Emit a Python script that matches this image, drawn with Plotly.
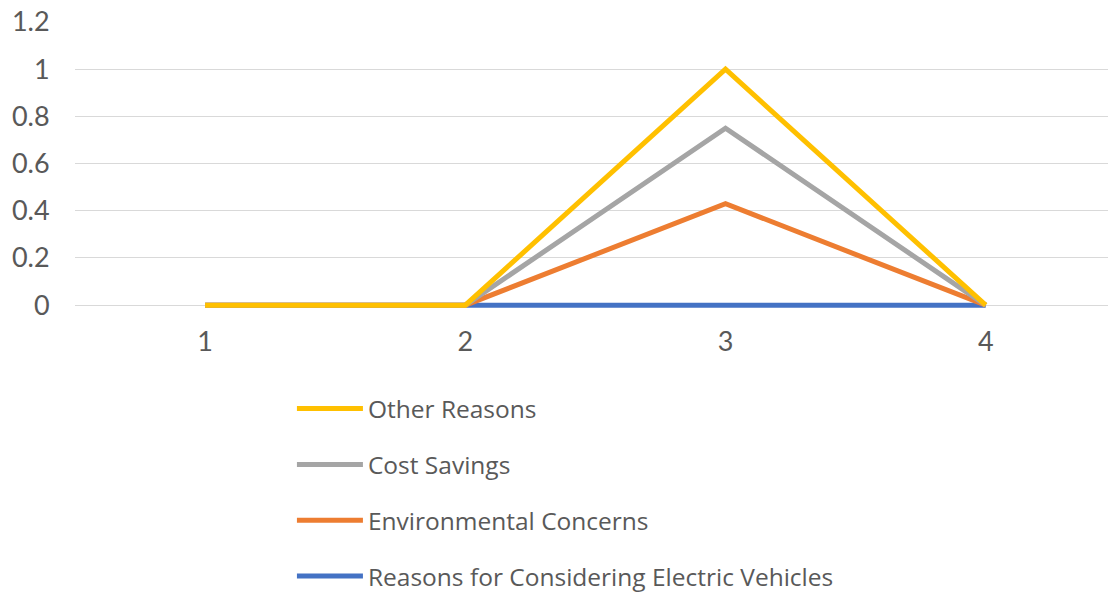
import plotly.graph_objects as go

categories = [1, 2, 3, 4]
reasons_ev = [0, 0, 0, 0]
environmental = [0, 0, 0.43, 0]
cost_savings = [0, 0, 0.75, 0]
other_reasons = [0, 0, 1.0, 0]

# drawn bottom-to-top; legend lists them top-to-bottom in reverse
series = [
    ("Reasons for Considering Electric Vehicles", reasons_ev, "#4472C4"),
    ("Environmental Concerns", environmental, "#ED7D31"),
    ("Cost Savings", cost_savings, "#A5A5A5"),
    ("Other Reasons", other_reasons, "#FFC000"),
]

fig = go.Figure()
n = len(series)
for i, (name, vals, color) in enumerate(series):
    fig.add_trace(go.Scatter(
        x=categories, y=vals, name=name, mode="lines",
        line=dict(color=color, width=5),
        legendgroup=f"g{i}",
        legendrank=(n - i) * 10,
    ))

tick_font = dict(family="Lato, Open Sans, sans-serif", size=27, color="#595959")
legend_font = dict(family="Open Sans, sans-serif", size=24.5, color="#595959")

fig.update_layout(
    width=1108, height=594,
    margin=dict(l=75, r=0, t=22, b=286),
    paper_bgcolor="white", plot_bgcolor="white",
    font=legend_font,
    showlegend=True,
    legend=dict(
        xref="paper", yref="container",
        x=0.21, y=0.35, xanchor="left", yanchor="top",
        traceorder="grouped", tracegroupgap=21,
        font=legend_font,
        itemwidth=66,
    ),
    xaxis=dict(
        range=[0.5, 4.47], tickvals=categories, ticktext=[str(c) for c in categories],
        showgrid=False, zeroline=False, showline=False,
        ticks="outside", ticklen=10, tickcolor="rgba(0,0,0,0)",
        tickfont=tick_font,
    ),
    # small headroom below zero so the baseline strokes are not clipped
    yaxis=dict(
        range=[-0.012, 1.2], tickvals=[0, 0.2, 0.4, 0.6, 0.8, 1, 1.2],
        ticktext=["0", "0.2", "0.4", "0.6", "0.8", "1", "1.2"],
        showgrid=True, gridcolor="#D9D9D9", gridwidth=1,
        zeroline=False, showline=False,
        ticks="outside", ticklen=19, tickcolor="rgba(0,0,0,0)",
        tickfont=tick_font,
    ),
)

fig.write_html("out.html")
